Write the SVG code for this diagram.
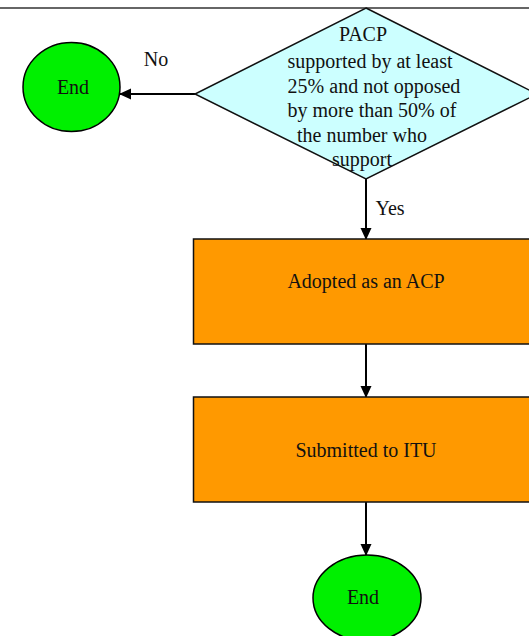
<svg xmlns="http://www.w3.org/2000/svg" width="529" height="636" viewBox="0 0 529 636">
  <defs>
    <marker id="arr" markerWidth="12" markerHeight="12" refX="11" refY="6" orient="auto" markerUnits="userSpaceOnUse">
      <path d="M0,0.5 L12,6 L0,11.5 Z" fill="#000"/>
    </marker>
    <style>
      text { font-family: "Liberation Serif", "Times New Roman", serif; font-size: 20px; fill: #111; text-anchor: middle; }
      .edge { stroke: #000; stroke-width: 2; fill: none; marker-end: url(#arr); }
      .term { fill: #00F000; stroke: #000; stroke-width: 1.5; }
      .proc { fill: #FF9900; stroke: #111; stroke-width: 1.5; }
      .dec { fill: #CCFFFF; stroke: #111; stroke-width: 1.5; }
    </style>
  </defs>
  <rect x="0" y="0" width="529" height="636" fill="#fff"/>
  <line x1="0" y1="8" x2="529" y2="8" stroke="#333" stroke-width="1.5"/>

  <g id="connectors">
    <line class="edge" x1="195" y1="94" x2="120" y2="94"/>
    <text x="156" y="66">No</text>
    <line class="edge" x1="366" y1="179" x2="366" y2="239"/>
    <text x="390" y="215">Yes</text>
    <line class="edge" x1="366" y1="344" x2="366" y2="397"/>
    <line class="edge" x1="366" y1="502" x2="366" y2="555"/>
  </g>

  <g id="decision">
    <polygon class="dec" points="366,8 537,94 366,179 195,94"/>
    <text x="363" y="41">PACP</text>
    <text x="370" y="68">supported by at least</text>
    <text x="374" y="93">25% and not opposed</text>
    <text x="372" y="117">by more than 50% of</text>
    <text x="362" y="142">the number who</text>
    <text x="362" y="166">support</text>
  </g>

  <g id="end-no">
    <ellipse class="term" cx="71.5" cy="87" rx="48.5" ry="44.5"/>
    <text x="73" y="94">End</text>
  </g>

  <g id="adopted">
    <rect class="proc" x="193.5" y="239" width="345" height="105"/>
    <text x="366" y="288">Adopted as an ACP</text>
  </g>

  <g id="submitted">
    <rect class="proc" x="193.5" y="397" width="345" height="105"/>
    <text x="366" y="457">Submitted to ITU</text>
  </g>

  <g id="end-final">
    <ellipse class="term" cx="367" cy="598" rx="54" ry="43"/>
    <text x="363" y="604">End</text>
  </g>
</svg>
